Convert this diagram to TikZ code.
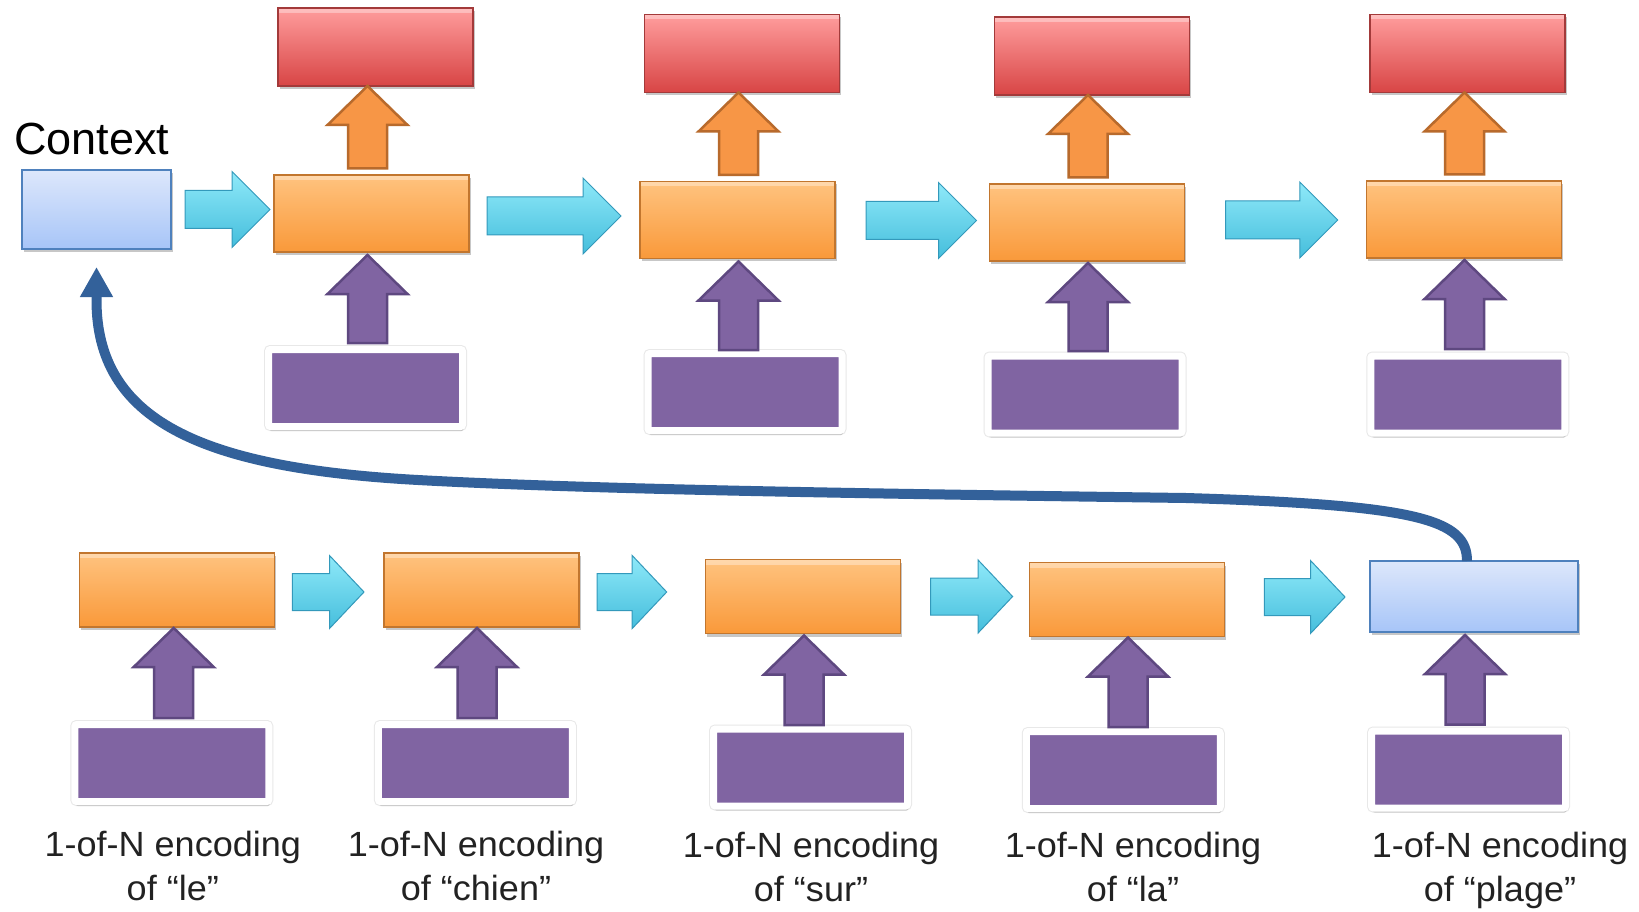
\documentclass[tikz,border=0pt]{standalone}
\usepackage{fontspec}
\setmainfont{Liberation Sans}
\newfontfamily\labelfont[FakeStretch=1.03]{Liberation Sans}
\usetikzlibrary{calc,shadows,arrows.meta}

\definecolor{redtop}{HTML}{FF9D9D}
\definecolor{redbot}{HTML}{D84545}
\definecolor{redline}{HTML}{A33A3A}
\definecolor{orgtop}{HTML}{FFC37F}
\definecolor{orgbot}{HTML}{F9993A}
\definecolor{orgline}{HTML}{C2762E}
\definecolor{blutop}{HTML}{DDE7FB}
\definecolor{blubot}{HTML}{A7C5F8}
\definecolor{bluline}{HTML}{4F81BD}
\definecolor{cyantop}{HTML}{8FE9F9}
\definecolor{cyanbot}{HTML}{45BEDC}
\definecolor{cyanline}{HTML}{3399BB}
\definecolor{purp}{HTML}{8064A2}
\definecolor{purpline}{HTML}{5E4880}
\definecolor{arrorange}{HTML}{F79646}
\definecolor{arrorangeline}{HTML}{B86A2C}
\definecolor{curve}{HTML}{33619A}
\definecolor{textgray}{HTML}{222222}

% horizontal block arrow: style, tail, tip, shaft half width, head half width, head length
\newcommand\hblockarrow[6]{%
  \path[#1] let \p1=(#2), \p2=(#3) in
    (\x1,{\y1+#4}) -- ({\x2-#6},{\y1+#4}) -- ({\x2-#6},{\y1+#5}) -- (\x2,\y1)
    -- ({\x2-#6},{\y1-#5}) -- ({\x2-#6},{\y1-#4}) -- (\x1,{\y1-#4}) -- cycle;}
% upward block arrow: style, tail, tip, shaft half width, head half width, head length
\newcommand\vblockarrow[6]{%
  \path[#1] let \p1=(#2), \p2=(#3) in
    ({\x1-#4},\y1) -- ({\x1-#4},{\y2-#6}) -- ({\x1-#5},{\y2-#6}) -- (\x1,\y2)
    -- ({\x1+#5},{\y2-#6}) -- ({\x1+#4},{\y2-#6}) -- ({\x1+#4},\y1) -- cycle;}

\tikzset{
  box/.style={rectangle, inner sep=0pt, outer sep=0pt, line width=1.2pt,
    minimum width=195pt,
    drop shadow={shadow xshift=1.5pt, shadow yshift=-3pt, fill=black, opacity=0.22}},
  gloss/.style={path picture={\fill[white, opacity=0.35]
    (path picture bounding box.north west) rectangle
    ([yshift=-5pt]path picture bounding box.north east);}},
  outbox/.style={box, gloss, minimum height=78pt, draw=redline, top color=redtop, bottom color=redbot},
  hidbox/.style={box, gloss, minimum height=77pt, draw=orgline, top color=orgtop, bottom color=orgbot},
  encbox/.style={hidbox, minimum height=74pt},
  ctxbox/.style={box, minimum width=149pt, minimum height=79pt, draw=bluline,
    top color=blutop, bottom color=blubot},
  lastbox/.style={ctxbox, minimum width=208pt, minimum height=71pt},
  inbox/.style={rectangle, inner sep=0pt, outer sep=0pt, minimum width=194pt,
    minimum height=77pt, fill=purp, draw=white, line width=7pt, rounded corners=2pt,
    preaction={draw=black!9, line width=9pt},
    drop shadow={shadow xshift=1pt, shadow yshift=-4.5pt, fill=black, opacity=0.15}},
  flowarrow/.style={draw=cyanline, line width=1pt, top color=cyantop,
    bottom color=cyanbot, line join=miter},
  outarrow/.style={fill=arrorange, draw=arrorangeline, line width=2.5pt, line join=miter},
  inarrow/.style={fill=purp, draw=purpline, line width=2.5pt, line join=miter},
  feedback/.style={draw=curve, line width=10pt, -{Triangle[width=31pt,length=30pt]}},
  caption/.style={font=\labelfont\fontsize{35}{44}\selectfont, align=center,
    anchor=north, inner sep=0pt, text=textgray},
}

\begin{document}
\begin{tikzpicture}[x=1pt,y=-1pt]
\fill[white] (0,0) rectangle (1639,912);
\useasboundingbox (0,0) rectangle (1639,912);

% ---- decoder row ----
\node[anchor=base west, inner sep=0pt, font=\fontsize{45}{54}\selectfont] (ctxlabel) at (14,155) {Context};
\node[ctxbox] (ctx) at (96.5,209.5) {};

\node[outbox] (r1) at (375.5,47) {};
\node[hidbox] (o1) at (371.5,213.5) {};
\node[inbox]  (p1) at (365.5,388) {};

\node[outbox] (r2) at (742,53.5) {};
\node[hidbox] (o2) at (737.5,220) {};
\node[inbox]  (p2) at (745,392) {};

\node[outbox] (r3) at (1092,56) {};
\node[hidbox] (o3) at (1087,222.5) {};
\node[inbox]  (p3) at (1085,394.5) {};

\node[outbox] (r4) at (1467.5,53.5) {};
\node[hidbox] (o4) at (1463.75,219.5) {};
\node[inbox]  (p4) at (1467.75,394.5) {};

% ---- encoder row ----
\node[encbox] (ob1) at (177.25,590) {};
\node[inbox]  (pb1) at (171.8,763) {};
\node[encbox] (ob2) at (481.5,590) {};
\node[inbox]  (pb2) at (475.4,763) {};
\node[encbox] (ob3) at (803,596.5) {};
\node[inbox]  (pb3) at (810.5,767.5) {};
\node[encbox] (ob4) at (1126.6,599.5) {};
\node[inbox]  (pb4) at (1123.25,770) {};
\node[lastbox] (b5) at (1474,596.5) {};
\node[inbox]  (pb5) at (1468.5,769.5) {};

% ---- recurrent arrows ----
\hblockarrow{flowarrow}{$(ctx.east)+(14,0)$}{$(o1.west)+(-4,0)$}{19pt}{38pt}{38pt}
\hblockarrow{flowarrow}{$(o1.east)+(18,2.5)$}{$(o2.west)+(-19,0)$}{19pt}{38pt}{38pt}
\hblockarrow{flowarrow}{$(o2.east)+(31,0.5)$}{$(o3.west)+(-13,0)$}{19pt}{38pt}{38pt}
\hblockarrow{flowarrow}{$(o3.east)+(41,-2.5)$}{$(o4.west)+(-28.5,0)$}{19pt}{38pt}{38pt}

\hblockarrow{flowarrow}{$(ob1.east)+(17.5,2)$}{$(ob2.west)+(-20,0)$}{18.5pt}{36.5pt}{34.5pt}
\hblockarrow{flowarrow}{$(ob2.east)+(18,2)$}{$(ob3.west)+(-38.8,0)$}{18.5pt}{36.5pt}{34.5pt}
\hblockarrow{flowarrow}{$(ob3.east)+(30,0)$}{$(ob4.west)+(-16.5,0)$}{18.5pt}{36.5pt}{34.5pt}
\hblockarrow{flowarrow}{$(ob4.east)+(40.3,-2.5)$}{$(b5.west)+(-25,0)$}{18.5pt}{36.5pt}{34.5pt}

% ---- output arrows ----
\vblockarrow{outarrow}{$(o1.north)+(-4,-6.5)$}{r1.south}{19.5pt}{40pt}{39pt}
\vblockarrow{outarrow}{$(o2.north)+(1,-6.5)$}{r2.south}{19.5pt}{40pt}{39pt}
\vblockarrow{outarrow}{$(o3.north)+(1,-6.5)$}{r3.south}{19.5pt}{40pt}{39pt}
\vblockarrow{outarrow}{$(o4.north)+(0.75,-6.5)$}{r4.south}{19.5pt}{40pt}{39pt}

% ---- input arrows ----
\vblockarrow{inarrow}{$(p1.north)+(2,-6.5)$}{$(o1.south)+(0,3)$}{19.5pt}{40pt}{39pt}
\vblockarrow{inarrow}{$(p2.north)+(-6.5,-3.5)$}{$(o2.south)+(0,3)$}{19.5pt}{40pt}{39pt}
\vblockarrow{inarrow}{$(p3.north)+(3,-5)$}{$(o3.south)+(0,2)$}{19.5pt}{40pt}{39pt}
\vblockarrow{inarrow}{$(p4.north)+(-3.25,-7)$}{$(o4.south)+(0,2)$}{19.5pt}{40pt}{39pt}

\vblockarrow{inarrow}{$(pb1.north)+(1.9,-6.5)$}{$(ob1.south)+(0,1)$}{19.5pt}{40pt}{39pt}
\vblockarrow{inarrow}{$(pb2.north)+(1.6,-6.5)$}{$(ob2.south)+(0,1)$}{19.5pt}{40pt}{39pt}
\vblockarrow{inarrow}{$(pb3.north)+(-6.5,-4)$}{$(ob3.south)+(0,2)$}{19.5pt}{40pt}{39pt}
\vblockarrow{inarrow}{$(pb4.north)+(4.75,-4.5)$}{$(ob4.south)+(0,1)$}{19.5pt}{40pt}{39pt}
\vblockarrow{inarrow}{$(pb5.north)+(-3.5,-6.5)$}{$(b5.south)+(0,3)$}{19.5pt}{40pt}{39pt}

% ---- context fed back to the decoder ----
\draw[feedback] ($(b5.north)+(-7,0)$) .. controls (1467,520) and (1420,505) .. (1186,498)
  .. controls (900,494) and (600,490) .. (418,480)
  .. controls (200,468) and (96.5,420) .. (96.5,300) -- ($(ctx.south)+(0,18)$);

% ---- input captions ----
\node[caption] (l1) at (172.8,831) {1-of-N encoding\\of “le”};
\node[caption] (l2) at (476,831) {1-of-N encoding\\of “chien”};
\node[caption] (l3) at (811,832) {1-of-N encoding\\of “sur”};
\node[caption] (l4) at (1133,832) {1-of-N encoding\\of “la”};
\node[caption] (l5) at (1500,832) {1-of-N encoding\\of “plage”};
\end{tikzpicture}
\end{document}
